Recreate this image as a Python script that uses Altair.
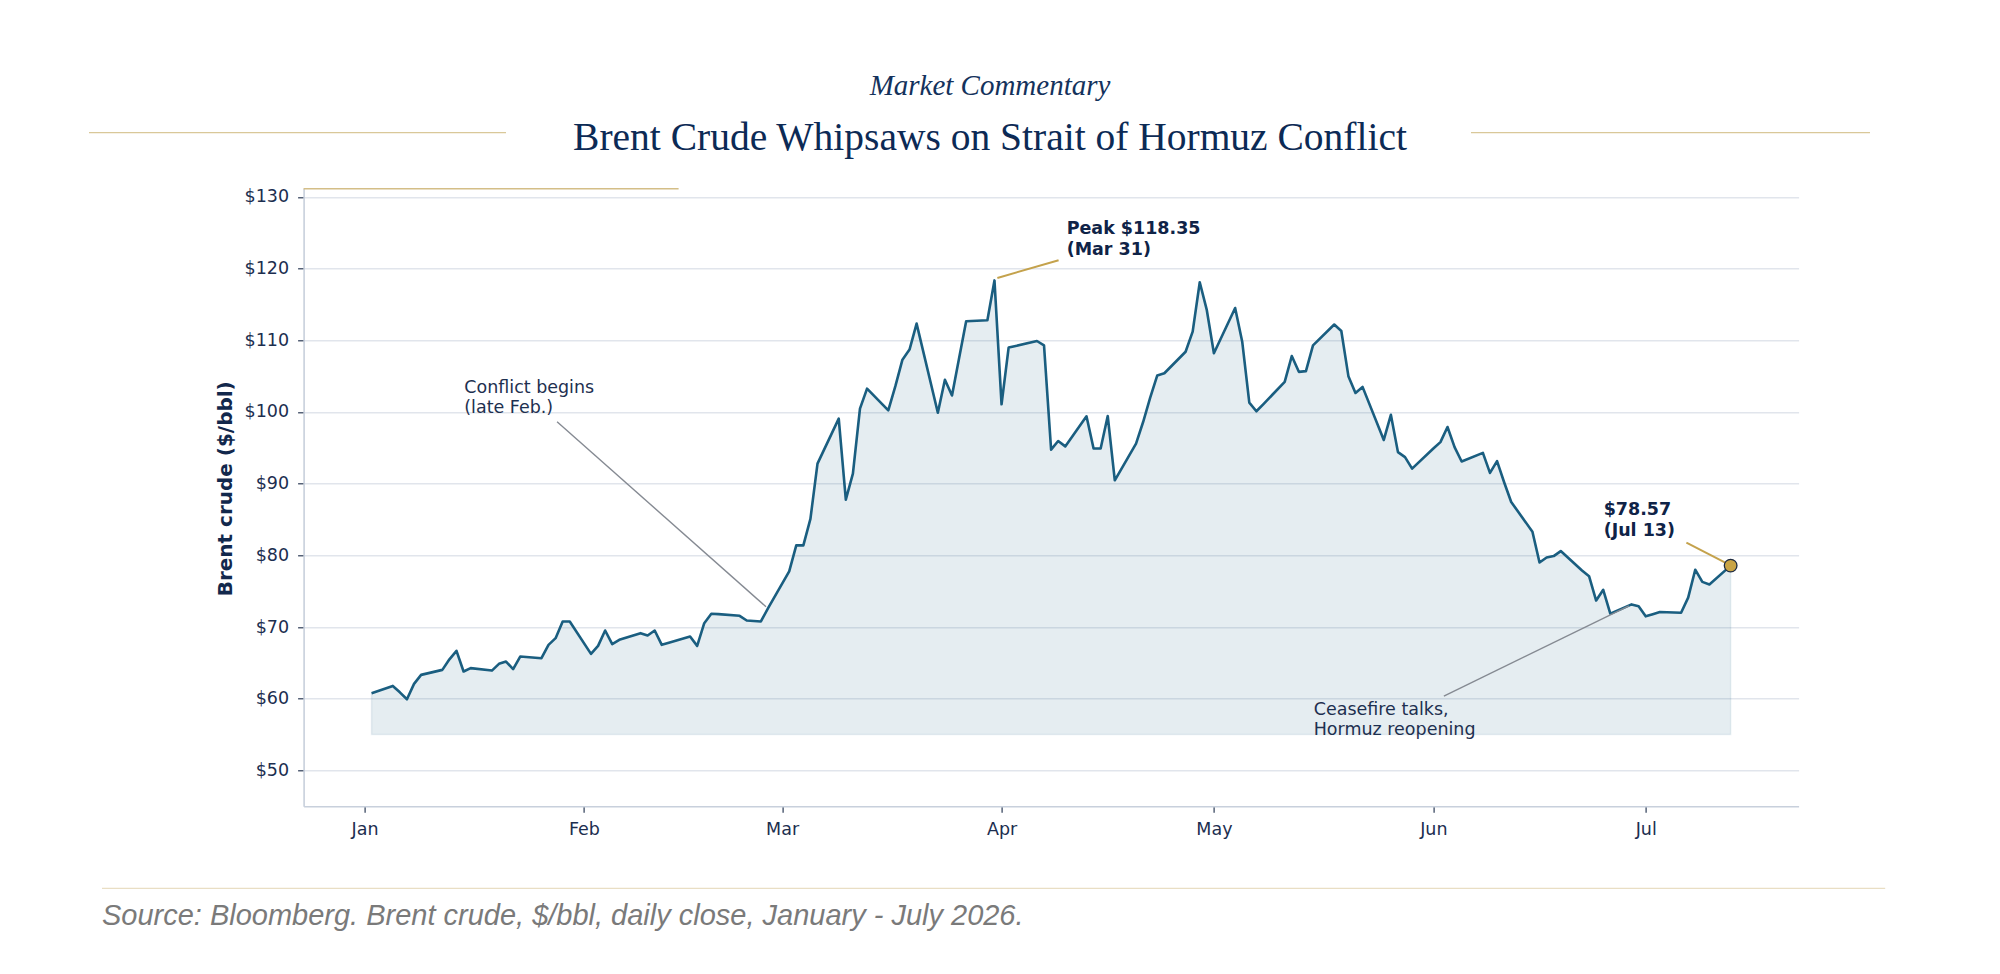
import altair as alt
import pandas as pd

# ---- data ----
dates = [
    "2026-01-02", "2026-01-05", "2026-01-06", "2026-01-07", "2026-01-08", "2026-01-09",
    "2026-01-12", "2026-01-13", "2026-01-14", "2026-01-15", "2026-01-16", "2026-01-19",
    "2026-01-20", "2026-01-21", "2026-01-22", "2026-01-23", "2026-01-26", "2026-01-27",
    "2026-01-28", "2026-01-29", "2026-01-30",
    "2026-02-02", "2026-02-03", "2026-02-04", "2026-02-05", "2026-02-06", "2026-02-09",
    "2026-02-10", "2026-02-11", "2026-02-12", "2026-02-13", "2026-02-16", "2026-02-17",
    "2026-02-18", "2026-02-19", "2026-02-20", "2026-02-23", "2026-02-24", "2026-02-25",
    "2026-02-26", "2026-02-27",
    "2026-03-02", "2026-03-03", "2026-03-04", "2026-03-05", "2026-03-06", "2026-03-09",
    "2026-03-10", "2026-03-11", "2026-03-12", "2026-03-13", "2026-03-16", "2026-03-17",
    "2026-03-18", "2026-03-19", "2026-03-20", "2026-03-23", "2026-03-24", "2026-03-25",
    "2026-03-26", "2026-03-27", "2026-03-30", "2026-03-31",
    "2026-04-01", "2026-04-02", "2026-04-03", "2026-04-06", "2026-04-07", "2026-04-08",
    "2026-04-09", "2026-04-10", "2026-04-13", "2026-04-14", "2026-04-15", "2026-04-16",
    "2026-04-17", "2026-04-20", "2026-04-21", "2026-04-22", "2026-04-23", "2026-04-24",
    "2026-04-27", "2026-04-28", "2026-04-29", "2026-04-30",
    "2026-05-01", "2026-05-04", "2026-05-05", "2026-05-06", "2026-05-07", "2026-05-08",
    "2026-05-11", "2026-05-12", "2026-05-13", "2026-05-14", "2026-05-15", "2026-05-18",
    "2026-05-19", "2026-05-20", "2026-05-21", "2026-05-22", "2026-05-25", "2026-05-26",
    "2026-05-27", "2026-05-28", "2026-05-29",
    "2026-06-01", "2026-06-02", "2026-06-03", "2026-06-04", "2026-06-05", "2026-06-08",
    "2026-06-09", "2026-06-10", "2026-06-11", "2026-06-12", "2026-06-15", "2026-06-16",
    "2026-06-17", "2026-06-18", "2026-06-19", "2026-06-22", "2026-06-23", "2026-06-24",
    "2026-06-25", "2026-06-26", "2026-06-29", "2026-06-30",
    "2026-07-01", "2026-07-02", "2026-07-03", "2026-07-06", "2026-07-07", "2026-07-08",
    "2026-07-09", "2026-07-10", "2026-07-13",
]
prices = [
    60.77, 61.79, 60.90, 59.93, 62.07, 63.33,
    64.03, 65.50, 66.68, 63.80, 64.27, 63.93,
    64.87, 65.19, 64.13, 65.89, 65.66, 67.52,
    68.45, 70.77, 70.77,
    66.26, 67.38, 69.52, 67.62, 68.22, 69.15,
    68.82, 69.52, 67.52, 67.80, 68.68, 67.38,
    70.54, 71.85, 71.80, 71.57, 70.91, 70.85,
    70.78, 72.60,
    77.76, 81.40, 81.40, 85.10, 92.80, 99.07,
    87.77, 91.40, 100.47, 103.26, 100.23, 103.60,
    107.30, 108.70, 112.33, 99.90, 104.50, 102.30,
    107.50, 112.65, 112.80, 118.35,
    101.07, 108.98, 109.20, 109.90, 109.30, 94.74,
    95.95, 95.20, 99.40, 94.90, 94.90, 99.44,
    90.47, 95.58, 98.60, 102.00, 105.10, 105.40,
    108.40, 111.20, 118.10, 114.20,
    108.20, 114.50, 109.80, 101.30, 100.10, 101.10,
    104.20, 107.80, 105.60, 105.70, 109.30, 112.20,
    111.30, 105.00, 102.65, 103.50, 96.10, 99.60,
    94.40, 93.70, 92.10,
    94.90, 95.80, 97.90, 95.10, 93.10, 94.30,
    91.50, 93.15, 90.20, 87.45, 83.30, 79.00,
    79.70, 79.90, 80.60, 77.90, 77.10, 73.70,
    75.20, 71.86, 73.16, 72.90,
    71.50, 71.80, 72.10, 72.00, 74.10, 78.00,
    76.30, 75.95, 78.57,
]
baseline_value = 55
y_ticks = [50, 60, 70, 80, 90, 100, 110, 120, 130]

# annotation texts
note_texts = ["Conflict begins\n(late Feb.)", "Ceasefire talks,\nHormuz reopening"]
note_x = ["2026-01-15T02:24:00Z", "2026-05-15T02:24:00Z"]
note_y = [102.7, 57.75]
bold_texts = ["Peak $118.35\n(Mar 31)", "$78.57\n(Jul 13)"]
bold_x = ["2026-04-10T04:48:00Z", "2026-06-25T01:26:00Z"]
bold_y = [124.8, 85.6]

# leader lines (from text to point)
gray_x = ["2026-01-28T05:00:00Z", "2026-06-02T11:46:00Z"]
gray_y = [98.64, 60.38]
gray_x2 = ["2026-02-26T17:17:00Z", "2026-06-28T14:53:00Z"]
gray_y2 = [72.84, 72.94]
gold_x = ["2026-03-31T09:50:00Z", "2026-07-12T05:46:00Z"]
gold_y = [118.69, 78.98]
gold_x2 = ["2026-04-09T01:26:00Z", "2026-07-06T18:00:00Z"]
gold_y2 = [121.17, 81.77]

# ---- styling ----
LINE = "#1a5e80"
GOLD = "#c4a24c"
NAVY = "#12284c"
W, H = 1495, 618

df = pd.DataFrame({"date": dates, "price": prices})
last = df.tail(1)

xscale = alt.Scale(
    type="utc",
    domain=[
        alt.DateTime(year=2025, month=12, date=23, hours=9, minutes=36, utc=True),
        alt.DateTime(year=2026, month=7, date=22, hours=14, minutes=24, utc=True),
    ],
)
yscale = alt.Scale(domain=[45, 131.2], nice=False, zero=False)

xaxis = alt.Axis(
    values=[alt.DateTime(year=2026, month=m, date=1, utc=True) for m in range(1, 8)],
    format="%b",
    grid=False,
    title=None,
    labelPadding=8,
)
yaxis = alt.Axis(
    values=y_ticks,
    labelExpr="'$' + datum.value",
    grid=True,
    title="Brent crude ($/bbl)",
    titleFont="DejaVu Sans",
    titleFontWeight="bold",
    titleFontSize=20,
    titleColor=NAVY,
    titleAngle=270,
    titleX=-78,
    titleY=H / 2 - 9,
    titleAlign="center",
    titleBaseline="middle",
    labelPadding=9,
)

X = alt.X("date:T", scale=xscale, axis=xaxis)
Y = alt.Y("price:Q", scale=yscale, axis=yaxis)

area = alt.Chart(df).mark_area(
    fill=LINE, fillOpacity=0.115, stroke=LINE, strokeOpacity=0.09, strokeWidth=1.5
).encode(x=X, y=Y, y2=alt.datum(baseline_value))

line = alt.Chart(df).mark_line(color=LINE, strokeWidth=2.6, strokeJoin="round").encode(
    x="date:T", y="price:Q"
)

dot = alt.Chart(last).mark_point(
    filled=True, size=160, fill="#c9a445", stroke="#1d2a40", strokeWidth=1.3, opacity=1
).encode(x="date:T", y="price:Q")

gray_df = pd.DataFrame({"x": gray_x, "y": gray_y, "x2": gray_x2, "y2": gray_y2})
gold_df = pd.DataFrame({"x": gold_x, "y": gold_y, "x2": gold_x2, "y2": gold_y2})

gray_rules = alt.Chart(gray_df).mark_rule(color="#858a92", strokeWidth=1.4).encode(
    x="x:T", y="y:Q", x2="x2:T", y2="y2:Q"
)
gold_rules = alt.Chart(gold_df).mark_rule(color=GOLD, strokeWidth=2).encode(
    x="x:T", y="y:Q", x2="x2:T", y2="y2:Q"
)

notes = alt.Chart(pd.DataFrame({"t": note_texts, "x": note_x, "y": note_y})).mark_text(
    align="left", baseline="alphabetic", font="DejaVu Sans", fontSize=17.5,
    color="#1e3050", lineBreak="\n", lineHeight=20,
).encode(x="x:T", y="y:Q", text="t:N")

bolds = alt.Chart(pd.DataFrame({"t": bold_texts, "x": bold_x, "y": bold_y})).mark_text(
    align="left", baseline="alphabetic", font="DejaVu Sans", fontSize=17.5,
    fontWeight="bold", color="#0f2347", lineBreak="\n", lineHeight=20.5,
).encode(x="x:T", y="y:Q", text="t:N")

# ---- page furniture (pixel positions relative to the plot area) ----
one = pd.DataFrame({"k": [0]})

def rule_px(x1, x2, y, color, width):
    return alt.Chart(one).mark_rule(color=color, strokeWidth=width).encode(
        x=alt.value(x1), x2=alt.value(x2), y=alt.value(y), y2=alt.value(y)
    )

def text_px(txt, x, y, **kw):
    return alt.Chart(one).mark_text(x=x, y=y, text=txt, baseline="alphabetic", **kw).encode(
        text=alt.value(txt)
    )

kicker = text_px("Market Commentary", 686.4, -93.3, align="center",
                 font="Liberation Serif", fontStyle="italic", fontSize=29, color="#14325c")
title = text_px("Brent Crude Whipsaws on Strait of Hormuz Conflict", 686.4, -38.3,
                align="center", font="Liberation Serif", fontSize=39.5, color="#0c2a55")
source = text_px("Source: Bloomberg. Brent crude, $/bbl, daily close, January - July 2026.",
                 -201.6, 736.7, align="left", font="Liberation Sans", fontStyle="italic",
                 fontSize=29, color="#7a7a7a")

gold_left = rule_px(-214.6, 202.4, -55.6, "#d9c899", 1.3)
gold_right = rule_px(1167.4, 1566.4, -55.6, "#d9c899", 1.3)
src_line = rule_px(-201.6, 1581.6, 700, "#e9dec4", 1.3)
accent = rule_px(0, 375, 0.5, "#d4be87", 1.6)

chart = alt.layer(
    area, line, gray_rules, gold_rules, dot, notes, bolds,
    kicker, title, source, gold_left, gold_right, src_line, accent,
).properties(
    width=W,
    height=H,
    padding={"left": 295.6, "top": 180.3, "right": 180, "bottom": 150},
    autosize=alt.AutoSizeParams(type="none"),
    background="white",
).configure_view(
    fill="#f7f9fc", stroke="transparent"
).configure_axis(
    labelFont="DejaVu Sans",
    labelFontSize=17.5,
    labelColor="#1c2e4f",
    tickColor="#2b3a55",
    tickSize=6,
    tickWidth=1.2,
    domainColor="#c8d0dc",
    domainWidth=1.6,
    gridColor="#e1e5ec",
    gridWidth=1.4,
)

chart.save("out.html", embed_options={"renderer": "svg", "actions": False})
